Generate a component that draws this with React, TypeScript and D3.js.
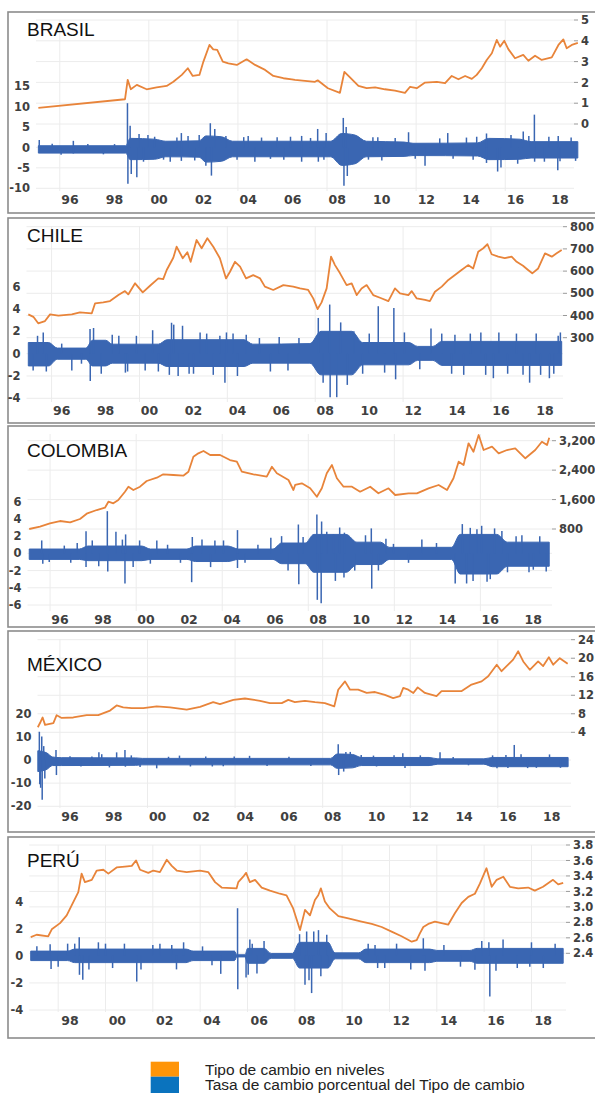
import React from 'react';
import * as d3 from 'd3';

type P = [number, number];
type B = [number, number, number];

const NARANJA = '#E8843A';
const AZUL = '#3A66B2';

// ---- BRASIL ----
const brasilNivel: P[] = [
  [1994.58, 0.78], [1998.47, 1.19], [1998.59, 2.12], [1998.73, 1.67], [1999.0, 1.88], [1999.44, 1.67],
  [1999.89, 1.76], [2000.34, 1.83], [2000.64, 2.03], [2001.02, 2.36], [2001.29, 2.68], [2001.51, 2.31],
  [2001.81, 2.36], [2001.99, 3.0], [2002.26, 3.8], [2002.43, 3.59], [2002.61, 3.56], [2002.86, 3.0],
  [2003.11, 2.92], [2003.49, 2.84], [2003.93, 3.11], [2004.31, 2.84], [2004.76, 2.6], [2005.13, 2.31],
  [2005.58, 2.2], [2005.96, 2.15], [2006.1, 2.12], [2007.0, 2.03], [2007.12, 2.1], [2007.58, 1.72],
  [2008.12, 1.5], [2008.32, 2.51], [2008.57, 2.24], [2008.95, 1.83], [2009.32, 1.72], [2009.7, 1.76],
  [2010.14, 1.67], [2010.59, 1.6], [2011.04, 1.5], [2011.27, 1.79], [2011.57, 1.72], [2011.94, 1.99],
  [2012.47, 2.03], [2012.84, 1.96], [2013.14, 2.31], [2013.44, 2.15], [2013.74, 2.31], [2014.04, 2.17],
  [2014.26, 2.36], [2014.49, 2.68], [2014.71, 3.08], [2014.94, 3.4], [2015.16, 4.04], [2015.31, 3.72],
  [2015.5, 4.0], [2015.68, 3.6], [2015.98, 3.16], [2016.35, 3.32], [2016.58, 3.04], [2016.88, 3.28],
  [2017.18, 3.08], [2017.63, 3.2], [2017.93, 3.8], [2018.15, 4.07], [2018.3, 3.64], [2018.53, 3.8],
  [2018.8, 3.9],
];
const brasilBanda: B[] = [
  [1994.58, 0.4, -1.4], [1998.5, 0.4, -1.4], [1998.7, 2.2, -3.0], [1999.8, 2.0, -2.9], [2000.3, 1.5, -2.3],
  [2001.8, 1.6, -2.4], [2002.1, 2.8, -3.6], [2002.8, 2.6, -3.4], [2003.3, 1.5, -2.3], [2007.7, 1.5, -2.3],
  [2008.2, 3.4, -4.4], [2008.8, 3.0, -4.0], [2009.3, 1.5, -2.3], [2011.0, 1.3, -2.2], [2011.4, 1.0, -2.0],
  [2014.3, 1.1, -2.1], [2014.8, 2.2, -3.0], [2016.2, 2.0, -2.9], [2016.7, 1.4, -2.6], [2018.8, 1.4, -2.6],
];
const brasilPicos: P[] = [
  [1994.62, 1.8], [1995.2, 0.9], [1995.6, -1.8], [1996.15, 1.6], [1996.15, -1.5], [1996.8, 0.8],
  [1997.5, -1.7], [1998.0, 0.8], [1998.58, 10.8], [1998.6, -8.9], [1998.7, 5.3], [1998.75, -6.5],
  [1999.0, -7.3], [1999.1, 3.3], [1999.3, -3.5], [1999.5, 3.0], [1999.8, 2.6], [2000.2, -3.0],
  [2000.5, -3.5], [2000.8, 2.4], [2001.0, 3.5], [2001.0, -3.3], [2001.3, 2.8], [2001.6, -3.2],
  [2001.8, 3.0], [2002.1, -4.5], [2002.3, 5.9], [2002.35, -6.9], [2002.5, 4.5], [2003.0, 2.8],
  [2003.5, -3.0], [2003.8, 2.5], [2004.0, 2.8], [2004.3, -3.5], [2004.6, 2.4], [2005.0, -2.8],
  [2005.3, 2.5], [2005.6, -3.0], [2005.9, 2.6], [2006.4, 2.8], [2006.4, -3.5], [2006.8, 2.3],
  [2007.12, 4.5], [2007.15, -3.5], [2007.4, -3.0], [2007.5, 3.5], [2008.27, 7.2], [2008.3, -9.4],
  [2008.4, 5.0], [2008.45, -7.0], [2009.4, -3.0], [2009.6, 2.5], [2009.82, 2.45], [2010.0, -3.2],
  [2010.6, 2.3], [2011.2, 3.7], [2011.5, -2.8], [2011.94, -4.5], [2012.6, 2.2], [2012.96, 3.5],
  [2013.2, -2.8], [2013.8, 2.4], [2014.1, -3.0], [2014.26, 2.6], [2014.7, 3.4], [2014.7, -3.8],
  [2015.2, -5.9], [2015.35, -4.9], [2015.8, 3.0], [2016.1, -4.0], [2016.35, 3.9], [2016.6, 2.8],
  [2016.85, 8.0], [2016.86, -3.5], [2017.3, -3.5], [2017.5, 2.6], [2017.9, -5.6], [2017.92, 2.8],
  [2018.0, -3.4], [2018.5, 2.4], [2018.7, -3.3],
];
const brasilIzq = [-10, -5, 0, 5, 10, 15];
const brasilDer = [0, 1, 2, 3, 4, 5];

// ---- CHILE ----
const chileNivel: P[] = [
  [1994.48, 405], [1994.71, 394], [1994.93, 365], [1995.24, 375], [1995.47, 405], [1995.85, 399],
  [1996.46, 405], [1996.83, 414], [1997.37, 410], [1997.52, 455], [1997.89, 459], [1998.2, 465],
  [1998.58, 492], [1998.88, 510], [1999.03, 495], [1999.34, 545], [1999.69, 504], [2000.02, 534],
  [2000.4, 567], [2000.62, 564], [2000.78, 605], [2001.08, 660], [2001.23, 710], [2001.51, 658],
  [2001.72, 685], [2001.87, 642], [2002.14, 740], [2002.37, 703], [2002.63, 748], [2002.9, 710],
  [2003.2, 658], [2003.48, 567], [2003.66, 597], [2003.89, 642], [2004.12, 620], [2004.39, 567],
  [2004.72, 582], [2005.03, 567], [2005.25, 530], [2005.63, 515], [2006.09, 537], [2006.54, 530],
  [2006.85, 522], [2007.22, 515], [2007.45, 477], [2007.65, 429], [2007.83, 459], [2008.06, 522],
  [2008.26, 665], [2008.44, 627], [2008.67, 590], [2008.97, 537], [2009.2, 545], [2009.43, 492],
  [2009.65, 522], [2009.88, 537], [2010.18, 492], [2010.49, 480], [2010.87, 465], [2011.17, 522],
  [2011.4, 500], [2011.78, 492], [2011.93, 510], [2012.16, 477], [2012.54, 470], [2012.76, 465],
  [2012.99, 507], [2013.3, 530], [2013.6, 560], [2013.9, 582], [2014.2, 605], [2014.5, 627],
  [2014.73, 612], [2014.96, 687], [2015.19, 703], [2015.38, 721], [2015.57, 676], [2015.87, 665],
  [2016.17, 658], [2016.48, 665], [2016.71, 642], [2017.0, 624], [2017.23, 605], [2017.42, 590],
  [2017.69, 612], [2018.0, 680], [2018.31, 665], [2018.53, 680], [2018.76, 695],
];
const chileBanda: B[] = [
  [1994.48, 1.0, -1.1], [1995.4, 1.0, -1.1], [1995.8, 0.5, -0.5], [1997.1, 0.5, -0.5], [1997.4, 1.2, -1.1],
  [1998.0, 1.2, -1.1], [1998.3, 0.85, -0.85], [2000.4, 0.85, -0.85], [2000.8, 1.25, -1.15], [2004.3, 1.25, -1.15],
  [2004.7, 0.85, -0.85], [2007.3, 0.9, -0.85], [2007.8, 2.0, -1.9], [2009.2, 2.0, -1.9], [2009.7, 1.0, -1.0],
  [2011.8, 1.0, -1.0], [2012.2, 0.65, -0.6], [2012.9, 0.65, -0.6], [2013.3, 1.1, -1.05], [2018.76, 1.1, -1.05],
];
const chilePicos: P[] = [
  [1994.7, -1.5], [1994.9, 1.6], [1995.16, 1.9], [1995.3, -1.6], [1996.0, 0.9], [1996.46, -1.5],
  [1996.9, -0.9], [1997.29, 2.2], [1997.3, -2.45], [1997.45, 2.3], [1997.8, -1.8], [1998.3, 1.7],
  [1998.6, 1.6], [1998.9, -1.7], [1999.0, -1.6], [1999.4, 1.6], [1999.8, -1.5], [2000.14, 2.1],
  [2000.4, -1.6], [2000.9, -1.9], [2001.0, 2.77], [2001.1, 2.6], [2001.3, -2.0], [2001.5, 2.5],
  [2001.8, -1.8], [2002.0, -1.8], [2002.3, 1.9], [2002.6, 1.8], [2002.9, -1.9], [2003.2, 1.6],
  [2003.43, -2.6], [2003.5, 1.9], [2003.8, 1.8], [2004.0, -2.0], [2004.4, 1.7], [2005.0, 1.4],
  [2005.5, -1.6], [2005.9, 1.5], [2006.3, -1.5], [2006.8, 1.4], [2007.68, 3.2], [2007.9, -2.6],
  [2008.2, 4.4], [2008.22, -3.9], [2008.52, -3.9], [2008.7, 2.8], [2009.0, -2.8], [2009.3, 2.0],
  [2009.7, -1.8], [2010.0, 1.8], [2010.41, 4.25], [2010.7, -1.7], [2011.12, 4.1], [2011.2, -2.3],
  [2011.6, 1.9], [2012.3, -1.4], [2012.81, 2.26], [2013.3, 1.8], [2013.75, -1.8], [2013.9, 1.7],
  [2014.3, -1.9], [2014.6, 1.8], [2015.08, 1.9], [2015.3, -1.9], [2015.65, -2.2], [2015.9, 1.9],
  [2016.3, -1.8], [2016.7, 1.8], [2017.0, -1.9], [2017.3, -2.6], [2017.6, 1.8], [2017.8, -1.9],
  [2018.2, -2.2], [2018.4, -1.8], [2018.6, 1.6], [2018.7, 1.9],
];
const chileIzq = [-4, -2, 0, 2, 4, 6];
const chileDer = [300, 400, 500, 600, 700, 800];

// ---- COLOMBIA ----
const colombiaNivel: P[] = [
  [1994.57, 800], [1995.07, 863], [1995.53, 955], [1996.0, 1017], [1996.47, 982], [1996.93, 1072],
  [1997.27, 1227], [1997.71, 1316], [1998.09, 1379], [1998.25, 1542], [1998.48, 1498], [1998.71, 1588],
  [1999.02, 1814], [1999.18, 1950], [1999.41, 1860], [1999.72, 1950], [2000.03, 2105], [2000.5, 2194],
  [2000.8, 2287], [2001.27, 2268], [2001.73, 2249], [2001.97, 2357], [2002.2, 2765], [2002.43, 2857],
  [2002.67, 2920], [2002.98, 2811], [2003.44, 2811], [2003.9, 2675], [2004.22, 2629], [2004.45, 2357],
  [2004.99, 2287], [2005.61, 2222], [2005.85, 2493], [2006.08, 2314], [2006.62, 2132], [2006.85, 1860],
  [2006.93, 1996], [2007.24, 2042], [2007.63, 1906], [2007.94, 1678], [2008.17, 1906], [2008.4, 2314],
  [2008.64, 2540], [2008.87, 2178], [2009.18, 1950], [2009.57, 1950], [2009.95, 1814], [2010.42, 1950],
  [2010.8, 1770], [2011.27, 1906], [2011.58, 1724], [2012.2, 1770], [2012.59, 1770], [2013.13, 1906],
  [2013.6, 1996], [2013.99, 1860], [2014.29, 2178], [2014.53, 2629], [2014.76, 2540], [2014.99, 3129],
  [2015.22, 2901], [2015.46, 3355], [2015.69, 2947], [2016.08, 3037], [2016.39, 2857], [2016.78, 2947],
  [2017.16, 2993], [2017.63, 2722], [2018.09, 2947], [2018.4, 3173], [2018.64, 3083], [2018.74, 3281],
];
const colombiaBanda: B[] = [
  [1994.57, 0.5, -0.7], [1996.9, 0.5, -0.7], [1997.3, 0.85, -0.85], [1999.8, 0.85, -0.85], [2000.2, 0.5, -0.7],
  [2001.9, 0.5, -0.7], [2002.3, 0.85, -0.95], [2003.8, 0.85, -0.95], [2004.3, 0.5, -0.7], [2005.9, 0.5, -0.7],
  [2006.3, 1.2, -1.2], [2007.4, 1.2, -1.2], [2007.8, 2.2, -2.2], [2009.3, 2.2, -2.2], [2009.8, 1.3, -1.3],
  [2010.9, 1.3, -1.3], [2011.3, 0.7, -0.7], [2014.2, 0.7, -0.7], [2014.6, 2.2, -2.4], [2016.3, 2.2, -2.4],
  [2016.8, 1.3, -1.5], [2018.74, 1.3, -1.5],
];
const colombiaPicos: P[] = [
  [1995.15, 1.5], [1995.2, -1.2], [1995.5, -1.0], [1996.2, 0.9], [1996.5, -1.1], [1996.8, 1.2],
  [1997.21, 2.58], [1997.21, -1.6], [1997.5, 1.5], [1997.8, -1.5], [1998.2, 4.9], [1998.22, -2.1],
  [1998.6, 2.5], [1998.9, 1.6], [1999.02, -3.5], [1999.05, 2.2], [1999.4, -1.6], [1999.7, 1.5],
  [2000.2, -1.2], [2000.5, 1.5], [2001.0, 1.0], [2001.6, -1.1], [2002.12, -3.35], [2002.15, 1.9],
  [2002.6, 1.6], [2003.0, -1.6], [2003.2, 1.5], [2003.6, 1.5], [2004.25, 2.7], [2004.25, -1.7],
  [2004.6, -1.1], [2005.2, 1.0], [2005.8, 1.8], [2006.3, 2.0], [2006.6, -2.0], [2007.08, 3.35],
  [2007.1, -3.6], [2007.3, 1.9], [2007.94, 4.5], [2007.96, -5.4], [2008.14, -5.8], [2008.16, 3.7],
  [2008.4, 2.5], [2008.71, 2.2], [2008.8, -3.2], [2009.0, 3.0], [2009.2, -2.8], [2009.22, 2.4],
  [2009.7, -2.0], [2010.2, 2.1], [2010.47, 2.9], [2010.49, -4.1], [2010.8, -2.0], [2011.15, 1.7],
  [2011.5, 1.1], [2012.2, -1.1], [2012.82, 1.6], [2013.5, 1.2], [2014.37, -3.5], [2014.7, 3.4],
  [2014.9, -3.5], [2015.07, 2.96], [2015.2, -3.2], [2015.38, 2.8], [2015.6, 3.2], [2015.85, -3.3],
  [2016.0, -3.0], [2016.2, 2.9], [2016.54, 2.6], [2016.8, -2.2], [2017.2, 2.0], [2017.47, 2.1],
  [2017.8, -2.2], [2018.0, -1.9], [2018.3, 2.0], [2018.6, -2.1],
];
const colombiaIzq = [-6, -4, -2, 0, 2, 4, 6];
const colombiaDer = [800, 1600, 2400, 3200];

// ---- MÉXICO ----
const mexicoNivel: P[] = [
  [1994.53, 5.1], [1994.63, 6.0], [1994.75, 7.2], [1994.86, 5.6], [1995.24, 6.0], [1995.39, 7.7],
  [1995.62, 7.1], [1996.15, 7.2], [1996.76, 7.7], [1997.29, 7.7], [1997.83, 8.7], [1998.13, 9.8],
  [1998.43, 9.4], [1998.82, 9.2], [1999.35, 9.2], [1999.96, 9.6], [2000.57, 9.4], [2001.33, 8.9],
  [2001.94, 9.5], [2002.54, 10.5], [2002.85, 10.1], [2003.46, 11.0], [2003.99, 11.3], [2004.68, 10.8],
  [2005.13, 10.3], [2005.67, 10.3], [2005.97, 11.0], [2006.27, 10.5], [2006.73, 10.8], [2007.19, 10.5],
  [2007.64, 10.3], [2008.07, 9.6], [2008.25, 13.2], [2008.56, 15.0], [2008.79, 13.2], [2009.16, 13.2],
  [2009.55, 12.5], [2009.93, 12.7], [2010.38, 12.1], [2010.76, 11.4], [2011.07, 11.8], [2011.22, 13.6],
  [2011.45, 13.2], [2011.68, 12.5], [2011.88, 13.7], [2012.21, 12.5], [2012.74, 11.8], [2012.97, 12.9],
  [2013.43, 12.9], [2013.89, 12.9], [2014.34, 14.3], [2014.8, 15.0], [2015.1, 16.1], [2015.49, 18.6],
  [2015.71, 17.2], [2016.01, 18.6], [2016.24, 19.7], [2016.47, 21.5], [2016.7, 19.3], [2017.0, 17.5],
  [2017.38, 19.3], [2017.61, 18.3], [2017.87, 20.2], [2018.07, 18.6], [2018.37, 20.0], [2018.73, 18.8],
];
const mexicoBanda: B[] = [
  [1994.53, 4, -5], [1994.95, 3, -4], [1995.2, 1.3, -2.4], [1995.6, 1.0, -2.4], [1999.0, 0.9, -2.3],
  [1999.3, 0.7, -2.1], [2007.9, 0.7, -2.1], [2008.2, 2.6, -3.6], [2008.9, 2.4, -3.4], [2009.3, 1.1, -2.4],
  [2012.4, 1.1, -2.4], [2012.8, 0.5, -1.8], [2014.9, 0.5, -1.8], [2015.3, 1.1, -2.9], [2018.75, 1.1, -2.9],
];
const mexicoPicos: P[] = [
  [1994.6, 12.2], [1994.62, -10.5], [1994.66, -12], [1994.71, 10.1], [1994.73, -17.2], [1994.8, 6],
  [1994.85, -8], [1995.36, 4.3], [1995.38, -6.5], [1996.0, 1.6], [1996.5, -2.8], [1997.0, 1.5],
  [1997.32, 3.3], [1997.45, 2.5], [1997.8, -3.2], [1998.13, 3.3], [1998.51, 4.3], [1998.53, -2.9],
  [1998.8, 2.0], [1999.2, -3.0], [1999.96, -3.6], [2000.5, 1.4], [2001.0, 1.9], [2001.5, -2.8],
  [2002.2, 1.5], [2002.5, -2.8], [2003.0, -2.7], [2003.5, 1.5], [2004.2, 1.8], [2005.0, -2.6],
  [2006.0, 1.4], [2007.0, -2.6], [2008.25, 6.8], [2008.27, -6.5], [2008.5, -5.0], [2008.6, 3.5],
  [2008.8, 3.5], [2009.3, 2.2], [2009.86, 1.9], [2010.0, -2.8], [2010.8, 2.0], [2011.2, 2.9],
  [2011.3, -3.5], [2012.0, 2.0], [2012.9, 3.3], [2013.5, 1.3], [2014.2, -2.3], [2015.3, 2.0],
  [2015.5, -3.6], [2015.91, 2.2], [2016.0, -3.5], [2016.29, 6.5], [2016.6, 2.5], [2016.9, -3.5],
  [2017.3, -3.4], [2017.9, 2.4], [2018.4, -3.4],
];
const mexicoIzq = [-20, -10, 0, 10, 20];
const mexicoDer = [4, 8, 12, 16, 20, 24];

// ---- PERÚ ----
const peruNivel: P[] = [
  [1996.34, 2.61], [1996.59, 2.64], [1997.08, 2.62], [1997.23, 2.71], [1997.58, 2.79], [1997.86, 2.89],
  [1998.07, 3.02], [1998.35, 3.19], [1998.49, 3.43], [1998.63, 3.32], [1998.92, 3.35], [1999.13, 3.47],
  [1999.41, 3.48], [1999.62, 3.43], [1999.97, 3.51], [2000.32, 3.52], [2000.61, 3.53], [2000.79, 3.6],
  [2000.96, 3.48], [2001.31, 3.44], [2001.52, 3.47], [2001.8, 3.45], [2002.09, 3.61], [2002.3, 3.53],
  [2002.51, 3.47], [2002.93, 3.45], [2003.49, 3.47], [2003.84, 3.45], [2004.13, 3.32], [2004.41, 3.25],
  [2005.04, 3.24], [2005.11, 3.32], [2005.32, 3.39], [2005.44, 3.44], [2005.6, 3.32], [2005.82, 3.35],
  [2006.1, 3.25], [2006.45, 3.21], [2006.87, 3.17], [2007.15, 3.15], [2007.43, 2.98], [2007.72, 2.7],
  [2007.93, 2.96], [2008.14, 2.89], [2008.35, 3.09], [2008.49, 3.15], [2008.6, 3.24], [2008.77, 3.07],
  [2008.98, 2.98], [2009.34, 2.88], [2009.76, 2.85], [2010.32, 2.81], [2010.75, 2.78], [2011.17, 2.74],
  [2011.59, 2.68], [2012.01, 2.62], [2012.44, 2.55], [2012.65, 2.57], [2012.79, 2.66], [2012.93, 2.74],
  [2013.14, 2.78], [2013.42, 2.81], [2013.7, 2.79], [2013.98, 2.77], [2014.27, 2.92], [2014.55, 3.05],
  [2014.83, 3.13], [2015.11, 3.17], [2015.32, 3.3], [2015.6, 3.5], [2015.82, 3.26], [2016.03, 3.35],
  [2016.31, 3.39], [2016.59, 3.26], [2016.94, 3.24], [2017.36, 3.25], [2017.64, 3.21], [2017.99, 3.26],
  [2018.41, 3.35], [2018.63, 3.29], [2018.84, 3.31],
];
const peruBanda: B[] = [
  [1996.34, 0.35, -0.35], [1997.9, 0.35, -0.35], [1998.2, 0.5, -0.5], [2002.9, 0.5, -0.5],
  [2003.2, 0.35, -0.35], [2004.95, 0.35, -0.35], [2005.05, 0.08, -0.08], [2005.4, 0.08, -0.08],
  [2005.5, 0.55, -0.55], [2006.2, 0.55, -0.55], [2006.5, 0.18, -0.18], [2007.4, 0.18, -0.18],
  [2007.7, 1.0, -0.9], [2008.9, 1.0, -0.9], [2009.2, 0.22, -0.22], [2010.2, 0.22, -0.22],
  [2010.5, 0.5, -0.5], [2013.2, 0.5, -0.5], [2013.5, 0.4, -0.4], [2014.9, 0.4, -0.4],
  [2015.2, 0.55, -0.55], [2018.84, 0.55, -0.55],
];
const peruPicos: P[] = [
  [1996.6, 0.7], [1997.16, 0.86], [1997.2, -0.98], [1997.5, -0.8], [1997.9, 0.9], [1998.2, 0.9],
  [1998.39, 1.38], [1998.4, -1.4], [1998.54, -1.77], [1998.8, -1.0], [1999.2, 1.0], [1999.5, 0.9],
  [1999.8, -0.9], [2000.3, 0.9], [2000.82, -1.9], [2001.0, -1.0], [2001.5, 0.8], [2001.8, 0.9],
  [2002.3, 0.8], [2002.5, -1.0], [2002.8, 1.0], [2003.6, 0.7], [2004.0, -0.7], [2004.37, -1.33],
  [2005.08, 3.52], [2005.09, -2.46], [2005.44, -1.6], [2005.53, -1.4], [2005.6, 1.2], [2005.7, 0.9],
  [2005.9, -1.3], [2006.2, 1.1], [2007.7, 1.6], [2007.93, -2.14], [2008.0, 1.8], [2008.1, -1.8],
  [2008.21, -2.75], [2008.3, 1.8], [2008.5, 1.9], [2008.6, -1.5], [2008.85, 1.55], [2008.9, -0.9],
  [2010.6, 0.9], [2010.89, 0.8], [2011.0, -0.9], [2011.3, -0.9], [2011.8, 0.9], [2012.4, -1.0],
  [2012.93, 1.3], [2013.0, -1.1], [2013.8, 0.8], [2014.5, -0.8], [2015.11, -1.03], [2015.4, 1.1],
  [2015.7, 1.0], [2015.74, -3.0], [2016.0, -1.1], [2016.3, 1.2], [2016.9, -0.9], [2017.43, -0.8],
  [2017.5, 1.0], [2018.0, -0.9], [2018.5, 0.9],
];
const peruIzq = [-4, -2, 0, 2, 4];
const peruDer = [2.4, 2.6, 2.8, 3.0, 3.2, 3.4, 3.6, 3.8];

const anios = d3.range(1996, 2019, 2);
const aniosPeru = d3.range(1998, 2019, 2);

const leyenda = ['Tipo de cambio en niveles', 'Tasa de cambio porcentual del Tipo de cambio'];

const panels = [
  {
    nombre: 'BRASIL', top: 12, bottom: 213, titleY: 36, labelY: 204,
    nivel: brasilNivel, banda: brasilBanda, picos: brasilPicos, anios,
    xDom: [1996, 2018], xPx: [70, 560], grid: [1995.54, 4],
    izq: brasilIzq, izqDom: [-10, 15], izqPx: [188.3, 86], izqX: 30,
    der: brasilDer, derDom: [0, 5], derPx: [124, 20], derX: 581, fmt: d3.format('d'),
  },
  {
    nombre: 'CHILE', top: 218, bottom: 423, titleY: 242, labelY: 415,
    nivel: chileNivel, banda: chileBanda, picos: chilePicos, anios,
    xDom: [1996, 2018], xPx: [61.7, 545], grid: [1995.54, 4],
    izq: chileIzq, izqDom: [-4, 6], izqPx: [398.3, 286.7], izqX: 20.5,
    der: chileDer, derDom: [300, 800], derPx: [337.7, 226.7], derX: 570, fmt: d3.format('d'),
  },
  {
    nombre: 'COLOMBIA', top: 426, bottom: 627, titleY: 457, labelY: 624,
    nivel: colombiaNivel, banda: colombiaBanda, picos: colombiaPicos, anios,
    xDom: [1996, 2018], xPx: [60, 533.3], grid: [1995.54, 4],
    izq: colombiaIzq, izqDom: [-6, 6], izqPx: [605, 501.7], izqX: 21.5,
    der: colombiaDer, derDom: [800, 3200], derPx: [529, 440.7], derX: 559, fmt: d3.format(','),
  },
  {
    nombre: 'MÉXICO', top: 631, bottom: 832, titleY: 671, labelY: 821,
    nivel: mexicoNivel, banda: mexicoBanda, picos: mexicoPicos, anios,
    xDom: [1996, 2018], xPx: [70, 551.7], grid: [1995.54, 4],
    izq: mexicoIzq, izqDom: [-20, 20], izqPx: [806.3, 713.7], izqX: 31.5,
    der: mexicoDer, derDom: [4, 24], derPx: [732.3, 639.7], derX: 578, fmt: d3.format('d'),
  },
  {
    nombre: 'PERÚ', top: 837, bottom: 1038, titleY: 867, labelY: 1025,
    nivel: peruNivel, banda: peruBanda, picos: peruPicos, anios: aniosPeru,
    xDom: [1998, 2018], xPx: [70, 543.3], grid: [1997.5, 2],
    izq: peruIzq, izqDom: [-4, 4], izqPx: [1010, 901.7], izqX: 23.3,
    der: peruDer, derDom: [2.4, 3.8], derPx: [953.3, 845], derX: 573, fmt: d3.format('.1f'),
  },
];

const axisFont = { fontFamily: 'DejaVu Sans, Verdana, sans-serif', fontWeight: 'bold' as const, fill: '#404040' };

function Panel({ p }: { p: typeof panels[number] }) {
  const x = d3.scaleLinear().domain(p.xDom).range(p.xPx);
  const yL = d3.scaleLinear().domain(p.izqDom).range(p.izqPx);
  const yR = d3.scaleLinear().domain(p.derDom).range(p.derPx);
  const linea = d3.line<P>().x(d => x(d[0])).y(d => yR(d[1]));
  const area = d3.area<B>().x(d => x(d[0])).y0(d => yL(d[2])).y1(d => yL(d[1])).curve(d3.curveMonotoneX);
  const gridX = d3.range(p.grid[0], 2019, p.grid[1]);
  const gx0 = p.izqX + 6;
  const gx1 = p.derX - 7;
  const bajos = p.izq.filter(v => yL(v) > p.derPx[0] + 8);
  return (
    <g>
      <rect x={8} y={p.top} width={620} height={p.bottom - p.top} fill="#fff" stroke="#8c8c8c" strokeWidth={1.6} />
      {gridX.map(g => (
        <line key={'v' + g} x1={x(g)} x2={x(g)} y1={p.top + 8} y2={p.labelY - 13} stroke="#ececec" strokeWidth={1} />
      ))}
      {p.der.map(v => (
        <line key={'h' + v} x1={gx0} x2={gx1} y1={yR(v)} y2={yR(v)} stroke="#ececec" strokeWidth={1} />
      ))}
      {bajos.map(v => (
        <line key={'hb' + v} x1={gx0} x2={gx1} y1={yL(v)} y2={yL(v)} stroke="#ececec" strokeWidth={1} />
      ))}
      <text x={27} y={p.titleY} fontFamily="Liberation Sans, Arial, sans-serif" fontSize={19} fill="#111">{p.nombre}</text>
      <path d={area(p.banda) || ''} fill={AZUL} stroke={AZUL} strokeWidth={1} strokeLinejoin="round" />
      {p.picos.map((d, i) => (
        <line key={'s' + i} x1={x(d[0])} x2={x(d[0])} y1={yL(0)} y2={yL(d[1])} stroke={AZUL} strokeWidth={1.5} />
      ))}
      <path d={linea(p.nivel) || ''} fill="none" stroke={NARANJA} strokeWidth={1.8} strokeLinejoin="round" />
      {p.izq.map(v => (
        <text key={'l' + v} x={p.izqX} y={yL(v)} dy="0.36em" textAnchor="end" fontSize={11.5} {...axisFont}>{v}</text>
      ))}
      {p.der.map(v => (
        <g key={'r' + v}>
          <line x1={p.derX - 7} x2={p.derX - 3} y1={yR(v)} y2={yR(v)} stroke="#999" strokeWidth={1} />
          <text x={p.derX} y={yR(v)} dy="0.36em" fontSize={11.5} {...axisFont}>{p.fmt(v)}</text>
        </g>
      ))}
      {p.anios.map(a => (
        <text key={'a' + a} x={x(a)} y={p.labelY} textAnchor="middle" fontSize={12.5} {...axisFont}>
          {String(a % 100).padStart(2, '0')}
        </text>
      ))}
    </g>
  );
}

export default function App() {
  return (
    <div style={{ position: 'absolute', left: 0, top: 0 }}>
      <svg width={595} height={1093} style={{ display: 'block', background: '#fff' }}>
        {panels.map(p => <Panel key={p.nombre} p={p} />)}
        <rect x={150.7} y={1061.7} width={28.3} height={15} fill="#FF9508" />
        <rect x={150.7} y={1076.7} width={28.3} height={17} fill="#0A73BE" />
        {leyenda.map((t, i) => (
          <text key={t} x={205} y={1075 + i * 15} fontFamily="Liberation Sans, Arial, sans-serif" fontSize={15.5} fill="#222">{t}</text>
        ))}
      </svg>
    </div>
  );
}
